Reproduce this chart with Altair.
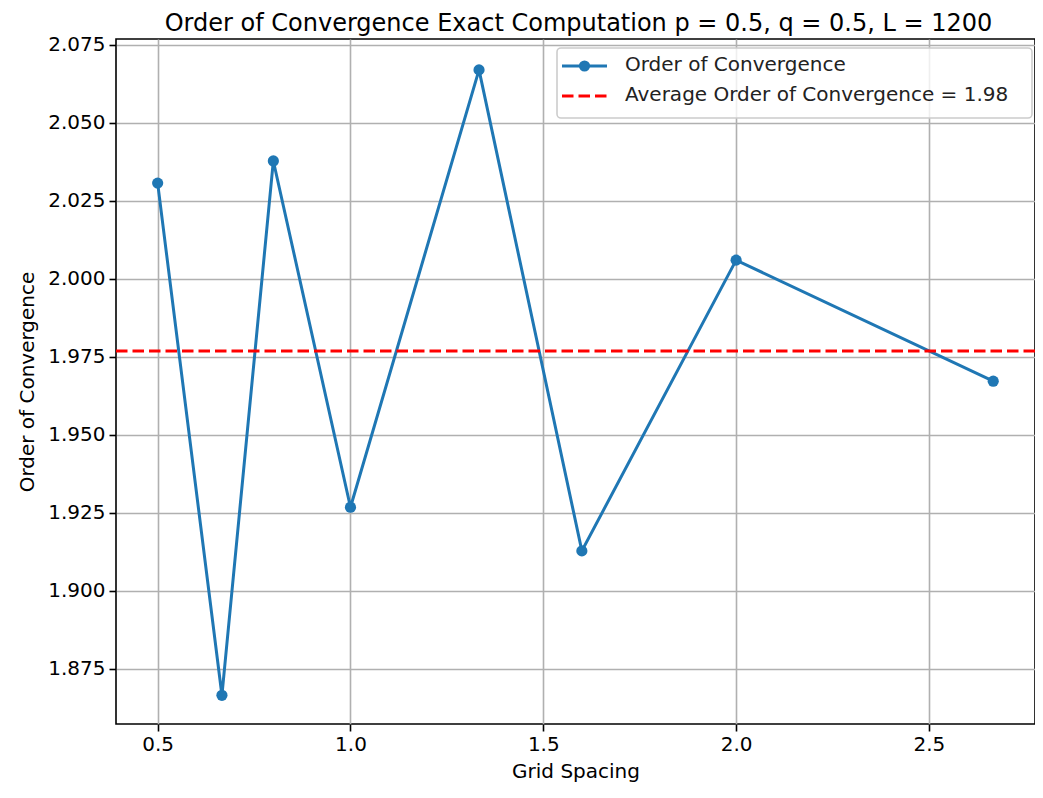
import altair as alt
import pandas as pd

grid_spacing = [0.5, 2/3, 0.8, 1.0, 4/3, 1.6, 2.0, 8/3]
order = [2.0307, 1.8665, 2.0378, 1.9268, 2.0670, 1.9128, 2.0060, 1.9672]
legend_labels = ["Order of Convergence", "Average Order of Convergence = 1.98"]
title_text = "Order of Convergence Exact Computation p = 0.5, q = 0.5, L = 1200"

df = pd.DataFrame({"h": grid_spacing, "p": order})
one = pd.DataFrame({"k": [0]})

FONT = "DejaVu Sans"
FS = 20
W, H = 919, 685
xs = alt.Scale(domain=[0.392, 2.775], nice=False, zero=False)
ys = alt.Scale(domain=[1.8573, 2.0769], nice=False, zero=False)

axis_common = dict(labelFont=FONT, titleFont=FONT, labelFontSize=FS, titleFontSize=FS,
                   titleFontWeight="normal", labelColor="black", titleColor="black",
                   grid=True, gridColor="#b0b0b0", gridWidth=1.6,
                   tickColor="black", tickSize=7, tickWidth=1.6, domain=False)

xenc = alt.X("h:Q", scale=xs, title="Grid Spacing",
             axis=alt.Axis(values=[0.5, 1.0, 1.5, 2.0, 2.5], format=".1f",
                           labelPadding=3, titlePadding=7, **axis_common))
yenc = alt.Y("p:Q", scale=ys, title="Order of Convergence",
             axis=alt.Axis(values=[1.875 + 0.025 * i for i in range(9)], format=".3f",
                           labelPadding=4, titlePadding=10, **axis_common))

base = alt.Chart(df)
line = base.mark_line(color="#1f77b4", strokeWidth=3).encode(x=xenc, y=yenc)
pts = base.mark_circle(color="#1f77b4", size=125, opacity=1).encode(x=xenc, y=yenc)
avg = base.transform_aggregate(m="mean(p)").mark_rule(
    color="red", strokeWidth=3, strokeDash=[11.5, 5]
).encode(y=alt.Y("m:Q", scale=ys))

# legend and title (decoration)
LX = 441
leg = alt.Chart(one)
leg_box = leg.mark_rect(
    fill="white", fillOpacity=0.8, stroke="#cccccc", strokeWidth=1.6, cornerRadius=4
).encode(x=alt.value(LX), x2=alt.value(W - 3), y=alt.value(9), y2=alt.value(79))
leg_line1 = leg.mark_rule(color="#1f77b4", strokeWidth=3).encode(
    x=alt.value(LX + 5), x2=alt.value(LX + 50), y=alt.value(27))
leg_pt = leg.mark_circle(color="#1f77b4", size=125, opacity=1).encode(
    x=alt.value(LX + 27.5), y=alt.value(27))
leg_line2 = leg.mark_rule(color="red", strokeWidth=3, strokeDash=[11.5, 5]).encode(
    x=alt.value(LX + 5), x2=alt.value(LX + 50), y=alt.value(57))
leg_t1 = leg.mark_text(align="left", baseline="middle", font=FONT, fontSize=FS,
                       color="#222222", text=legend_labels[0]).encode(
    x=alt.value(LX + 68), y=alt.value(26))
leg_t2 = leg.mark_text(align="left", baseline="middle", font=FONT, fontSize=FS,
                       color="#222222", text=legend_labels[1]).encode(
    x=alt.value(LX + 68), y=alt.value(56))
title = leg.mark_text(align="center", baseline="alphabetic", font=FONT, fontSize=24,
                      color="black", text=title_text).encode(
    x=alt.value(W / 2 + 3), y=alt.value(-8))

chart = alt.layer(
    line, pts, avg, leg_box, leg_line1, leg_pt, leg_line2, leg_t1, leg_t2, title
).properties(
    width=W, height=H,
    autosize=alt.AutoSizeParams(type="none"),
    padding={"left": 108, "top": 31, "right": 0, "bottom": 62},
).configure_view(
    stroke="black", strokeWidth=1.6
)

chart.save("out.html", embed_options={"renderer": "svg", "actions": False})
